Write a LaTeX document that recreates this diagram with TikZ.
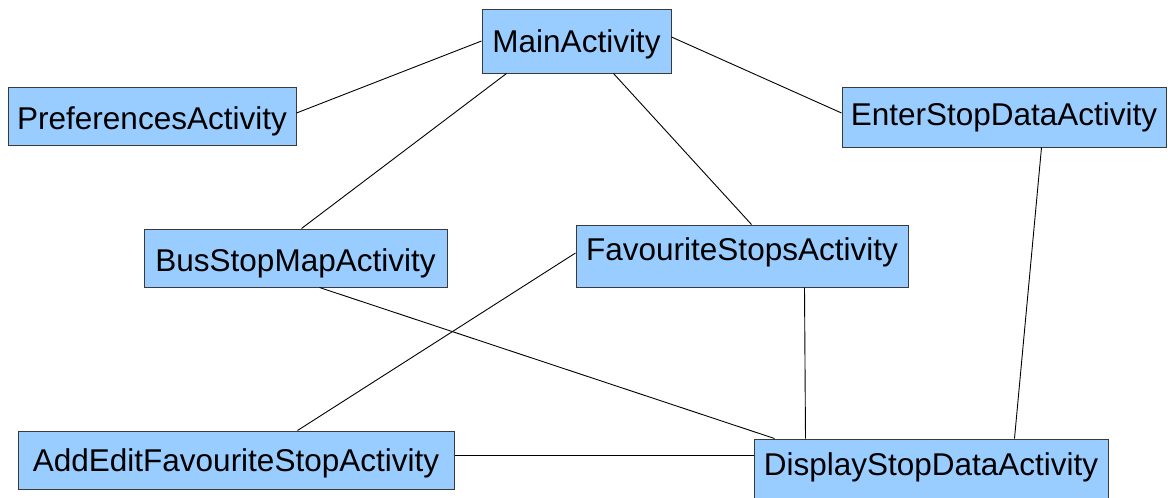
\documentclass[tikz,border=0pt]{standalone}
\usepackage{fontspec}
\setmainfont{Liberation Sans}
\usetikzlibrary{calc}
\definecolor{boxfill}{HTML}{99CCFF}
\definecolor{boxline}{HTML}{3A3A3A}
\tikzset{
  activity/.style={rectangle, draw=boxline, fill=boxfill, line width=1pt,
    inner sep=0pt, text height=22.6pt, text depth=0pt,
    font=\fontsize{31.5}{36}\selectfont},
  link/.style={draw=black, line width=0.9pt}
}
\begin{document}
\begin{tikzpicture}[x=1pt,y=-1pt]
  \path[use as bounding box, clip] (0,0) rectangle (1168,498);
  \fill[white] (0,0) rectangle (1168,498);

  % activity boxes
  \node[activity, minimum width=189pt, minimum height=64pt] (main)  at (576.5,41) {MainActivity};
  \node[activity, minimum width=288pt, minimum height=58pt, text height=27.6pt] (pref) at (152,116) {PreferencesActivity};
  \node[activity, minimum width=324pt, minimum height=60pt, text depth=5pt] (enter) at (1004,117) {EnterStopDataActivity};
  \node[activity, minimum width=303pt, minimum height=58pt, text height=26.6pt] (bus) at (295.5,258) {BusStopMapActivity};
  \node[activity, minimum width=332pt, minimum height=62pt, text depth=14pt] (fav) at (742,256) {FavouriteStopsActivity};
  \node[activity, minimum width=436pt, minimum height=58pt] (add)   at (236,460)  {AddEditFavouriteStopActivity};
  \node[activity, minimum width=354pt, minimum height=60pt, text depth=10pt] (disp) at (931,469) {DisplayStopDataActivity};

  % connections
  \draw[link] (main.west) -- ($(pref.east)+(0,-3)$);
  \draw[link] ($(main.east)+(0,-4)$) -- ($(enter.west)+(0,-4)$);
  \draw[link] ($(main.south west)+(25,0)$) -- ($(bus.north west)+(158,0)$);
  \draw[link] ($(main.south west)+(132,0)$) -- ($(fav.north west)+(176,0)$);
  \draw[link] ($(enter.south west)+(200,0)$) -- ($(disp.north west)+(261,0)$);
  \draw[link] ($(fav.south west)+(229,0)$) -- ($(disp.north west)+(52,0)$);
  \draw[link] ($(bus.south west)+(176,0)$) -- ($(disp.north west)+(21,0)$);
  \draw[link] ($(fav.west)+(0,-3)$) -- ($(add.north west)+(280,0)$);
  \draw[link] ($(add.east)+(0,-5)$) -- ($(disp.west)+(0,-14)$);
\end{tikzpicture}
\end{document}
